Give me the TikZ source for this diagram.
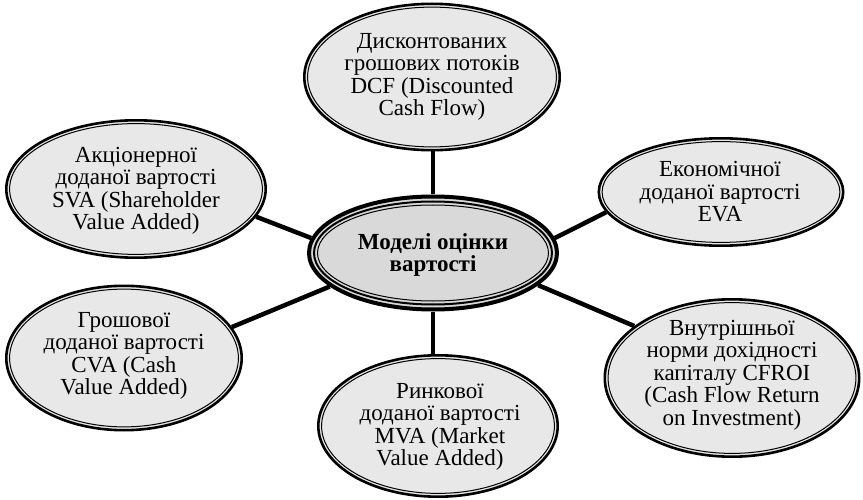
\documentclass[tikz,border=0pt]{standalone}
\usepackage{fontspec}
\setmainfont{Liberation Serif}
\usetikzlibrary{shapes.geometric,backgrounds,calc}
\definecolor{ovfill}{HTML}{E8E8E8}
\definecolor{cfill}{HTML}{D9D9D9}
\tikzset{
  ovbase/.style={ellipse, inner sep=0pt},
  ov/.style={ovbase, fill=ovfill, draw=black, line width=2.6pt,
    path picture={\draw[line width=1pt] let \p1=($(path picture bounding box.north east)-(path picture bounding box.center)$) in (path picture bounding box.center) ellipse ({\x1-3.3pt} and {\y1-3.3pt});}},
  cen/.style={ovbase, fill=cfill, draw=black, line width=4pt,
    path picture={\draw[line width=2pt] let \p1=($(path picture bounding box.north east)-(path picture bounding box.center)$) in (path picture bounding box.center) ellipse ({\x1-5pt} and {\y1-5pt});
      \draw[line width=1pt] let \p1=($(path picture bounding box.north east)-(path picture bounding box.center)$) in (path picture bounding box.center) ellipse ({\x1-8.5pt} and {\y1-8.5pt});}},
  txt/.style={inner sep=0pt, align=center, font=\fontsize{23}{22.5}\selectfont},
  ctxt/.style={txt, font=\fontsize{23}{22.5}\selectfont\bfseries},
  conn/.style={line width=4.5pt}
}
\begin{document}
\begin{tikzpicture}[x=1pt,y=-1pt]
\useasboundingbox (0,0) rectangle (863,500);
\node[cen, minimum width=248pt, minimum height=113pt] (c) at (433,253) {};
\node[ctxt] (ct) at (433,255) {Моделі оцінки\\вартості};
\node[ov, minimum width=255.4pt, minimum height=146.4pt] (dcf) at (432,77) {};
\node[txt] (dcft) at (432,77) {Дисконтованих\\грошових потоків\\DCF (Discounted\\Cash Flow)};
\node[ov, minimum width=244.4pt, minimum height=107.4pt] (eva) at (721,192) {};
\node[txt] (evat) at (720,192) {Економічної\\доданої вартості\\EVA};
\node[ov, minimum width=259.4pt, minimum height=137.4pt] (sva) at (136,189) {};
\node[txt] (svat) at (136,191) {Акціонерної\\доданої вартості\\SVA (Shareholder\\Value Added)};
\node[ov, minimum width=235.4pt, minimum height=144.4pt] (cva) at (124,358) {};
\node[txt] (cvat) at (124,356) {Грошової\\доданої вартості\\CVA (Cash\\Value Added)};
\node[ov, minimum width=239.4pt, minimum height=141.4pt] (mva) at (438,426) {};
\node[txt] (mvat) at (440,427) {Ринкової\\доданої вартості\\MVA (Market\\Value Added)};
\node[ov, minimum width=254.4pt, minimum height=157.4pt] (cfroi) at (732,378) {};
\node[txt] (cfroit) at (732,375) {Внутрішньої\\норми дохідності\\капіталу CFROI\\(Cash Flow Return\\on Investment)};
\begin{scope}[on background layer]
\draw[conn] (c.north) -- (c.north |- dcf.south);
\draw[conn] (c.7.5) -- (eva.190.6);
\draw[conn] (c.173) -- (sva.-13.4);
\draw[conn] (c.198) -- (cva.16.8);
\draw[conn] (c.south) -- (c.south |- mva.north);
\draw[conn] (c.-17) -- (cfroi.152);
\end{scope}
\end{tikzpicture}
\end{document}
